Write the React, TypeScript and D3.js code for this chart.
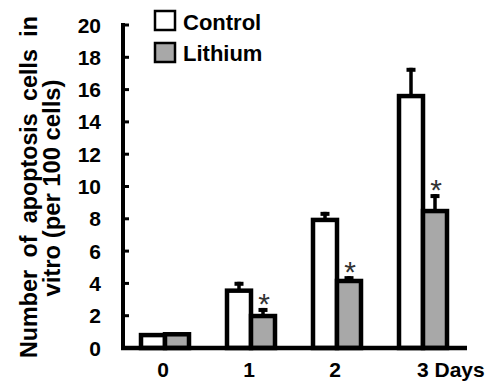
import React from "react";
import * as d3 from "d3";

// data
const days = ["0", "1", "2", "3"];
const controlMeans = [0.8, 3.55, 7.93, 15.6];
const controlErr = [0.05, 0.55, 0.5, 1.75];
const lithiumMeans = [0.85, 1.98, 4.15, 8.48];
const lithiumErr = [0.05, 0.5, 0.3, 1.05];
const significant = [false, true, true, true];
const yTicks = [0, 2, 4, 6, 8, 10, 12, 14, 16, 18, 20];
const seriesNames = ["Control", "Lithium"];

const W = 500;
const H = 381;
const FONT = "'Liberation Sans', Arial, sans-serif";
const GRAY = "#a8a8a8";

export default function App() {
  const y = d3.scaleLinear().domain([0, 20]).range([348, 25]);
  const x = d3.scalePoint<string>().domain(days).range([165, 423]);
  const barW = 24;
  const axisX = 123;

  const series = [
    { name: seriesNames[0], means: controlMeans, errs: controlErr, fill: "#fff", off: -barW },
    { name: seriesNames[1], means: lithiumMeans, errs: lithiumErr, fill: GRAY, off: 0 },
  ];

  return (
    <svg width={W} height={H} style={{ position: "absolute", left: 0, top: 0 }} fontFamily={FONT}>
      <rect width={W} height={H} fill="#fff" />

      {/* y title */}
      <g fontWeight="bold" fontSize={24} fill="#000" textAnchor="middle">
        <text
          transform="translate(37,187) rotate(-90)"
          wordSpacing={6}
          textLength={342}
          lengthAdjust="spacingAndGlyphs"
        >
          Number of apoptosis cells in
        </text>
        <text transform="translate(60,188) rotate(-90)" textLength={217} lengthAdjust="spacingAndGlyphs">
          vitro (per 100 cells)
        </text>
      </g>

      {/* y axis */}
      <line x1={axisX} x2={axisX} y1={y(0) + 2} y2={y(20) - 2} stroke="#000" strokeWidth={4} />
      {yTicks.map((t) => (
        <g key={t}>
          <line x1={axisX} x2={axisX + 6} y1={y(t)} y2={y(t)} stroke="#000" strokeWidth={3} />
          <text x={101} y={y(t)} dy="0.36em" textAnchor="end" fontSize={21} fontWeight="bold">
            {t}
          </text>
        </g>
      ))}

      {/* bars */}
      {series.map((s) =>
        days.map((d, i) => {
          const left = (x(d) as number) + s.off;
          const cx = left + barW / 2;
          const top = y(s.means[i]);
          const errTop = y(s.means[i] + s.errs[i]);
          return (
            <g key={s.name + d}>
              <line x1={cx} x2={cx} y1={top} y2={errTop} stroke="#000" strokeWidth={3.5} />
              <rect x={cx - 4.5} y={errTop} width={9} height={4} fill="#000" />
              <rect
                x={left}
                y={top}
                width={barW}
                height={y(0) - top}
                fill={s.fill}
                stroke="#000"
                strokeWidth={4.5}
              />
            </g>
          );
        })
      )}

      {/* significance stars */}
      {days.map((d, i) =>
        significant[i] ? (
          <text
            key={"s" + d}
            x={(x(d) as number) + barW / 2 + 1}
            y={y(lithiumMeans[i] + lithiumErr[i]) + 6}
            textAnchor="middle"
            fontSize={30}
            fill="#333"
          >
            *
          </text>
        ) : null
      )}

      {/* x axis */}
      <line x1={121} x2={467} y1={y(0)} y2={y(0)} stroke="#000" strokeWidth={4.5} />
      {days.map((d, i) => (
        <text
          key={"x" + d}
          x={i === days.length - 1 ? (x(d) as number) - 6 : (x(d) as number) - 2}
          y={377}
          textAnchor={i === days.length - 1 ? "start" : "middle"}
          fontSize={21}
          fontWeight="bold"
        >
          {i === days.length - 1 ? d + " Days" : d}
        </text>
      ))}

      {/* legend */}
      {series.map((s, i) => (
        <g key={"l" + s.name}>
          <rect x={155} y={11 + i * 32} width={20} height={19} fill={s.fill} stroke="#000" strokeWidth={2.5} />
          <text x={183} y={30 + i * 31} fontSize={22} fontWeight="bold">
            {s.name}
          </text>
        </g>
      ))}
    </svg>
  );
}
